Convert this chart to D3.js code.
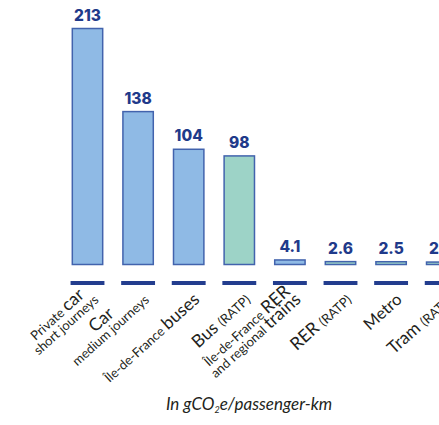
<!DOCTYPE html>
<html lang="en">
<head>
<meta charset="utf-8" />
<title>Emissions per passenger-km</title>
<style>
  body { margin: 0; background: #fff; }
  svg { display: block; }
  .value { font-family: Inter, "Open Sans", sans-serif; font-weight: 800; fill: #1f3a8a; }
  .cat { font-family: Lato, "Open Sans", sans-serif; fill: #231f20; }
  .unit { font-family: Lato, "Open Sans", sans-serif; font-style: italic; fill: #231f20; }
</style>
</head>
<body>
<svg id="chart" width="439" height="425"></svg>
<script src="https://cdn.jsdelivr.net/npm/d3@7"></script>
<script>
// values in gCO2e per passenger-km, as printed on the bars
var categories = ["Private car", "Car", "Île-de-France buses", "Bus (RATP)",
  "Île-de-France RER and regional trains", "RER (RATP)", "Metro", "Tram (RATP)"];
var values = [213, 138, 104, 98, 4.1, 2.6, 2.5, 2.2];
var valueLabels = ["213", "138", "104", "98", "4.1", "2.6", "2.5", "2.2"];
var operators = ["other", "other", "other", "RATP", "other", "RATP", "RATP", "RATP"];

// label lines: each line is a list of [text, size] pieces ("s" small, "m" medium, "l" large)
var labelLines = [
  [[["Private ", "s"], ["car", "l"]], [["short journeys", "s"]]],
  [[["Car", "l"]], [["medium journeys", "s"]]],
  [[["Île-de-France ", "s"], ["buses", "l"]]],
  [[["Bus ", "l"], ["(RATP)", "s"]]],
  [[["Île-de-France ", "s"], ["RER", "l"]], [["and regional ", "s"], ["trains", "l"]]],
  [[["RER ", "l"], ["(RATP)", "s"]]],
  [[["Metro", "m"]]],
  [[["Tram ", "l"], ["(RATP)", "s"]]]
];

var sizes = { s: 13, m: 16.5, l: 17.5 };
var fills = { other: "#8fbae5", RATP: "#9dd3c7" };

var svg = d3.select("#chart");

var x = d3.scaleBand()
  .domain(categories)
  .range([62.2, 62.2 + 8 * 50.6])
  .paddingInner(0.37)
  .paddingOuter(0.185);

var y = d3.scaleLinear()
  .domain([0, 213])
  .range([264.5, 28.5]);

// bars
svg.append("g").selectAll("rect")
  .data(categories)
  .enter()
  .append("rect")
  .attr("x", function(d) { return x(d) + 0.75; })
  .attr("width", x.bandwidth() - 1.5)
  .attr("y", function(d, i) { return y(values[i]); })
  .attr("height", function(d, i) { return y(0) - y(values[i]); })
  .style("fill", function(d, i) { return fills[operators[i]]; })
  .style("stroke", "#4263ad")
  .style("stroke-width", 1.5);

// value labels
svg.append("g").selectAll("text")
  .data(categories)
  .enter()
  .append("text")
  .attr("class", "value")
  .attr("x", function(d) { return x(d) + x.bandwidth() / 2; })
  .attr("y", function(d, i) { return y(values[i]) - 8; })
  .attr("text-anchor", "middle")
  .style("font-size", "15.5px")
  .text(function(d, i) { return valueLabels[i]; });

// dashed base line, one dash per bar
svg.append("g").selectAll("line")
  .data(categories)
  .enter()
  .append("line")
  .attr("x1", function(d) { return x(d) - 1; })
  .attr("x2", function(d) { return x(d) + x.bandwidth() + 1; })
  .attr("y1", 283)
  .attr("y2", 283)
  .style("stroke", "#233d8e")
  .style("stroke-width", 4);

// rotated category labels, turned about the end of their last line
var lh = 13;
categories.forEach(function(c, i) {
  var g = svg.append("g")
    .attr("transform", "translate(" + (x(c) + x.bandwidth() - 4) + ",301) rotate(-42)");
  var lines = labelLines[i];
  var texts = lines.map(function(line, j) {
    var t = g.append("text")
      .attr("class", "cat")
      .attr("y", (j - (lines.length - 1)) * lh);
    line.forEach(function(p) {
      t.append("tspan").style("font-size", sizes[p[1]] + "px").text(p[0]);
    });
    return t;
  });
  // shorter line is centred on the longer one
  var widths = texts.map(function(t) { return t.node().getComputedTextLength(); });
  var maxW = d3.max(widths);
  texts.forEach(function(t, j) {
    t.attr("x", -maxW + (maxW - widths[j]) / 2);
  });
});

// unit caption
var unit = svg.append("text")
  .attr("class", "unit")
  .attr("x", 249)
  .attr("y", 410)
  .attr("text-anchor", "middle")
  .style("font-size", "17px");
unit.append("tspan").text("In gCO");
unit.append("tspan").style("font-size", "9px").attr("dy", 3).text("2");
unit.append("tspan").attr("dy", -3).text("e/passenger-km");
</script>
</body>
</html>
